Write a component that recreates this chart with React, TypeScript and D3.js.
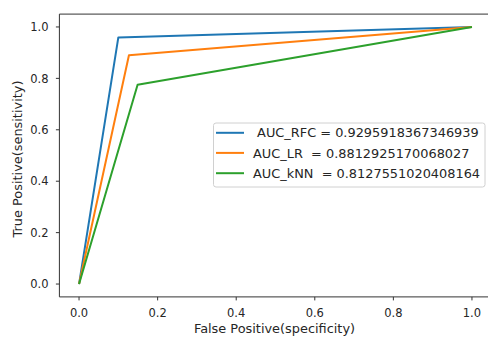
import React from 'react';
import * as d3 from 'd3';

// ROC points (fpr, tpr)
const fprRFC = [0, 0.1, 1];
const tprRFC = [0, 0.9592, 1];
const fprLR = [0, 0.127, 1];
const tprLR = [0, 0.8896, 1];
const fprKNN = [0, 0.149, 1];
const tprKNN = [0, 0.7755, 1];

const seriesLabels = [
  ' AUC_RFC = 0.9295918367346939',
  'AUC_LR  = 0.8812925170068027',
  'AUC_kNN  = 0.8127551020408164',
];
const seriesColors = ['#1f77b4', '#ff7f0e', '#2ca02c'];
const xTicks = [0, 0.2, 0.4, 0.6, 0.8, 1.0];
const yTicks = [0, 0.2, 0.4, 0.6, 0.8, 1.0];

const W = 488;
const H = 340;
const FONT = 'DejaVu Sans, sans-serif';

const App = () => {
  // matplotlib default 5% margins; right spine falls outside the picture
  const x = d3.scaleLinear().domain([-0.05, 1.05]).range([59.4, 491.6]);
  const y = d3.scaleLinear().domain([-0.05, 1.05]).range([296.9, 14.1]);

  const series = [
    { fpr: fprRFC, tpr: tprRFC },
    { fpr: fprLR, tpr: tprLR },
    { fpr: fprKNN, tpr: tprKNN },
  ];

  const line = d3
    .line<[number, number]>()
    .x(d => x(d[0]))
    .y(d => y(d[1]));

  const [x0, x1] = x.range();
  const [y0, y1] = y.range();

  // legend box
  const lg = { x: 213.5, y: 123, w: 271.5, h: 64 };
  const rowY = [132.8, 152.9, 173.2];

  return (
    <svg
      width={W}
      height={H}
      style={{ position: 'absolute', left: 0, top: 0, background: '#fff' }}
      fontFamily={FONT}
    >
      <rect x={0} y={0} width={W} height={H} fill="#fff" />

      {/* lines */}
      {series.map((s, i) => (
        <path
          key={i}
          d={line(s.fpr.map((f, j) => [f, s.tpr[j]] as [number, number])) || ''}
          fill="none"
          stroke={seriesColors[i]}
          strokeWidth={2}
          strokeLinejoin="round"
        />
      ))}

      {/* spines */}
      <line x1={x0} x2={x0} y1={y0} y2={y1} stroke="#333" strokeWidth={1} />
      <line x1={x0} x2={x1} y1={y0} y2={y0} stroke="#333" strokeWidth={1} />
      <line x1={x0} x2={x1} y1={y1} y2={y1} stroke="#333" strokeWidth={1} />
      <line x1={x1} x2={x1} y1={y0} y2={y1} stroke="#333" strokeWidth={1} />

      {/* x ticks */}
      {xTicks.map(t => (
        <g key={'x' + t}>
          <line x1={x(t)} x2={x(t)} y1={y0} y2={y0 + 3.5} stroke="#333" />
          <text
            x={x(t)}
            y={317}
            textAnchor="middle"
            fontSize={11.5}
            fill="#262626"
          >
            {t.toFixed(1)}
          </text>
        </g>
      ))}

      {/* y ticks */}
      {yTicks.map(t => (
        <g key={'y' + t}>
          <line x1={x0 - 3.5} x2={x0} y1={y(t)} y2={y(t)} stroke="#333" />
          <text
            x={48.5}
            y={y(t)}
            dy="0.36em"
            textAnchor="end"
            fontSize={11.5}
            fill="#262626"
          >
            {t.toFixed(1)}
          </text>
        </g>
      ))}

      {/* axis labels */}
      <text x={(x0 + x1) / 2 - 1} y={333} textAnchor="middle" fontSize={12.9} fill="#262626">
        False Positive(specificity)
      </text>
      <text
        transform={`translate(21.5,159) rotate(-90)`}
        textAnchor="middle"
        fontSize={12.9}
        fill="#262626"
      >
        True Positive(sensitivity)
      </text>

      {/* legend */}
      <rect
        x={lg.x}
        y={lg.y}
        width={lg.w}
        height={lg.h}
        rx={2.5}
        fill="#fff"
        fillOpacity={0.8}
        stroke="#d0d0d0"
        strokeWidth={1}
      />
      {seriesLabels.map((lab, i) => (
        <g key={lab}>
          <line
            x1={216}
            x2={244}
            y1={rowY[i]}
            y2={rowY[i]}
            stroke={seriesColors[i]}
            strokeWidth={2}
          />
          <text
            x={253}
            y={rowY[i]}
            dy="0.36em"
            fontSize={12.9}
            fill="#262626"
            style={{ whiteSpace: 'pre' }}
            xmlSpace="preserve"
          >
            {lab}
          </text>
        </g>
      ))}
    </svg>
  );
};

export default App;
